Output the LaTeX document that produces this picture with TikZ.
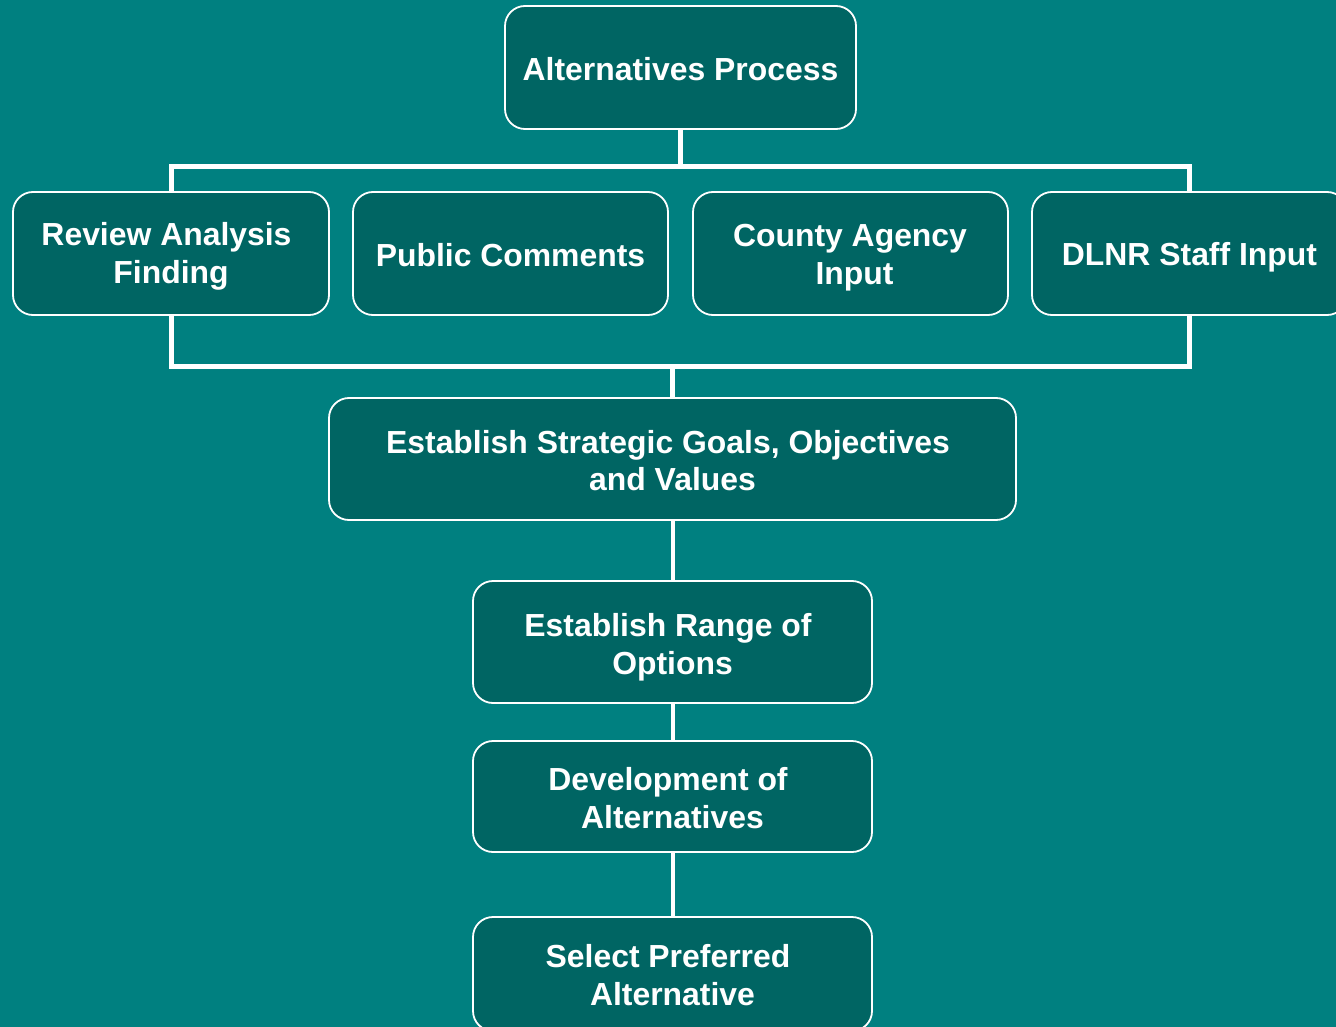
\documentclass[tikz,border=0pt]{standalone}
\usepackage{fontspec}
\setmainfont{Liberation Sans}
\definecolor{bgteal}{RGB}{0,128,128}
\definecolor{boxteal}{RGB}{0,101,99}
\pgfdeclarelayer{backfill}
\pgfdeclarelayer{conn}
\pgfsetlayers{backfill,conn,main}
\newcommand{\padr}{\hspace*{9pt}\mbox{}}
\begin{document}
\begin{tikzpicture}[x=1pt,y=-1pt,
  box/.style={draw=white, line width=1.8pt, fill=boxteal, rounded corners=20pt,
    inner sep=0pt, anchor=center},
  txt/.style={text=white, font=\fontsize{31.9}{37.5}\selectfont\bfseries, align=center,
    inner sep=0pt, anchor=center},
  bracket/.style={draw=white, line width=5pt},
  link/.style={draw=white, line width=4pt}]
\useasboundingbox (0,0) rectangle (1336,1027);
\clip (0,0) rectangle (1336,1027);
\begin{pgfonlayer}{backfill}
\fill[bgteal] (0,0) rectangle (1336,1027);
\end{pgfonlayer}
\coordinate (top) at (0,167);
\coordinate (bot) at (0,366);
\node[box, minimum width=351pt, minimum height=123pt] (alt) at (680.5,67.5) {};
\node[box, minimum width=316pt, minimum height=123pt] (rev) at (171,253.5) {};
\node[box, minimum width=315pt, minimum height=123pt] (pub) at (510.5,253.5) {};
\node[box, minimum width=315pt, minimum height=123pt] (cty) at (850.5,253.5) {};
\node[box, minimum width=315pt, minimum height=123pt] (dlnr) at (1189.5,253.5) {};
\node[box, minimum width=687pt, minimum height=122pt] (goals) at (672.5,459) {};
\node[box, minimum width=399pt, minimum height=122pt] (range) at (672.5,642) {};
\node[box, minimum width=399pt, minimum height=111pt] (dev) at (672.5,796.5) {};
\node[box, minimum width=399pt, minimum height=114pt] (sel) at (672.5,974) {};
\begin{pgfonlayer}{conn}
\draw[bracket] (alt.south) -- (alt.south |- top);
\draw[bracket] (rev.north) -- (rev.north |- top) -- (dlnr.north |- top) -- (dlnr.north);
\draw[bracket] (rev.south) -- (rev.south |- bot) -- (dlnr.south |- bot) -- (dlnr.south);
\draw[bracket] (goals.north |- bot) -- (goals.north);
\draw[link] (goals.south) -- (range.north);
\draw[link] (range.south) -- (dev.north);
\draw[link] (dev.south) -- (sel.north);
\end{pgfonlayer}
\node[txt, yshift=-2pt] (altt) at (alt) {Alternatives Process};
\node[txt, yshift=-3pt] (revt) at (rev) {Review Analysis\padr\\Finding};
\node[txt, yshift=-1.5pt] (pubt) at (pub) {Public Comments};
\node[txt, xshift=4pt, yshift=-4pt] (ctyt) at (cty) {County Agency\padr\\Input};
\node[txt, yshift=-4pt] (dlnrt) at (dlnr) {DLNR Staff Input};
\node[txt, yshift=-1.5pt] (goalst) at (goals) {Establish Strategic Goals, Objectives\padr\\and Values};
\node[txt, yshift=-5pt] (ranget) at (range) {Establish Range of\padr\\Options};
\node[txt, yshift=-1.5pt] (devt) at (dev) {Development of\padr\\Alternatives};
\node[txt, yshift=-1pt] (selt) at (sel) {Select Preferred\padr\\Alternative};
\end{tikzpicture}
\end{document}
